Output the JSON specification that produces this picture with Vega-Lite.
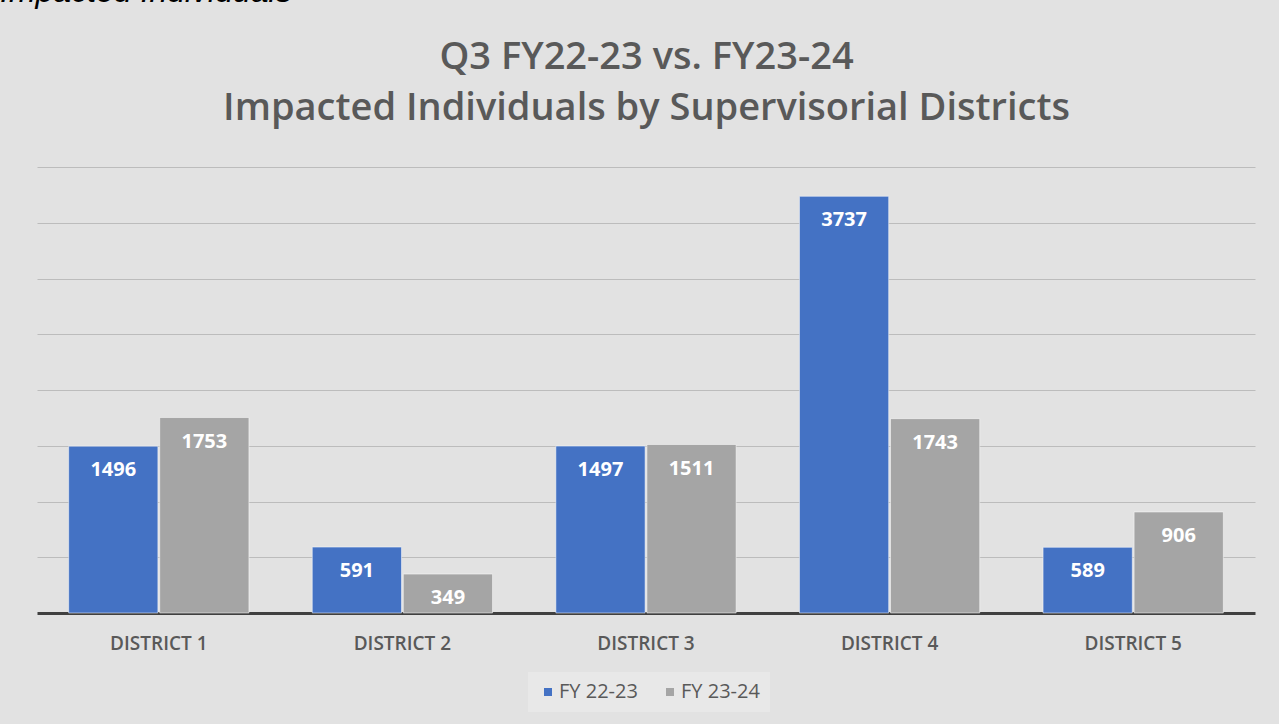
{
  "$schema": "https://vega.github.io/schema/vega-lite/v6.json",
  "width": 1218,
  "height": 446,
  "autosize": {"type": "none"},
  "padding": {"left": 37, "top": 167, "right": 24, "bottom": 111},
  "background": "#e2e2e2",
  "title": {
    "text": "Impacted Individuals",
    "anchor": "start",
    "frame": "group",
    "fontStyle": "italic",
    "fontSize": 32,
    "font": "Liberation Sans",
    "fontWeight": "normal",
    "color": "#000000",
    "baseline": "alphabetic",
    "dx": -37,
    "offset": 4
  },
  "data": {
    "values": [
      {"district": "DISTRICT 1", "year": "FY 22-23", "value": 1496},
      {"district": "DISTRICT 1", "year": "FY 23-24", "value": 1753},
      {"district": "DISTRICT 2", "year": "FY 22-23", "value": 591},
      {"district": "DISTRICT 2", "year": "FY 23-24", "value": 349},
      {"district": "DISTRICT 3", "year": "FY 22-23", "value": 1497},
      {"district": "DISTRICT 3", "year": "FY 23-24", "value": 1511},
      {"district": "DISTRICT 4", "year": "FY 22-23", "value": 3737},
      {"district": "DISTRICT 4", "year": "FY 23-24", "value": 1743},
      {"district": "DISTRICT 5", "year": "FY 22-23", "value": 589},
      {"district": "DISTRICT 5", "year": "FY 23-24", "value": 906}
    ]
  },
  "encoding": {
    "x": {
      "field": "district",
      "type": "nominal",
      "scale": {"paddingInner": 0.26, "paddingOuter": 0.13},
      "axis": {
        "title": null,
        "labelAngle": 0,
        "labelFont": "Open Sans",
        "labelFontSize": 19,
        "labelFontWeight": 600,
        "labelColor": "#595959",
        "labelPadding": 21,
        "ticks": false,
        "domainColor": "#404040",
        "domainWidth": 3,
        "grid": false
      }
    },
    "xOffset": {"field": "year", "type": "nominal", "scale": {"paddingInner": 0.02}},
    "y": {
      "field": "value",
      "type": "quantitative",
      "scale": {"domain": [0, 4000], "nice": false},
      "axis": {
        "title": ["Q3 FY22-23 vs. FY23-24", "Impacted Individuals by Supervisorial Districts"],
        "titleAngle": 0,
        "titleX": 609,
        "titleY": -99,
        "titleAlign": "center",
        "titleBaseline": "alphabetic",
        "titleFontSize": 38,
        "titleFont": "Open Sans",
        "titleFontWeight": 600,
        "titleColor": "#595959",
        "titleLineHeight": 51,
        "labels": false,
        "ticks": false,
        "domain": false,
        "grid": true,
        "gridColor": "#bcbcbc",
        "values": [500, 1000, 1500, 2000, 2500, 3000, 3500, 4000]
      }
    }
  },
  "layer": [
    {
      "mark": {"type": "bar", "stroke": "#ffffff", "strokeWidth": 1, "strokeOpacity": 0.5},
      "encoding": {
        "color": {
          "field": "year",
          "type": "nominal",
          "scale": {"domain": ["FY 22-23", "FY 23-24"], "range": ["#4472C4", "#A5A5A5"]},
          "legend": {
            "orient": "none",
            "legendX": 491,
            "legendY": 505,
            "direction": "horizontal",
            "title": null,
            "symbolType": "square",
            "symbolSize": 64,
            "symbolStrokeWidth": 0,
            "labelFontSize": 20,
            "labelFont": "Open Sans",
            "labelColor": "#595959",
            "labelOffset": 1,
            "columnPadding": 22,
            "fillColor": "#e8e8e8",
            "padding": 10
          }
        }
      }
    },
    {
      "mark": {"type": "text", "baseline": "middle", "dy": 24, "color": "#ffffff", "fontWeight": "bold", "fontSize": 20, "font": "Open Sans"},
      "encoding": {"text": {"field": "value", "type": "quantitative", "format": "d"}}
    }
  ],
  "config": {"view": {"stroke": null}}
}
